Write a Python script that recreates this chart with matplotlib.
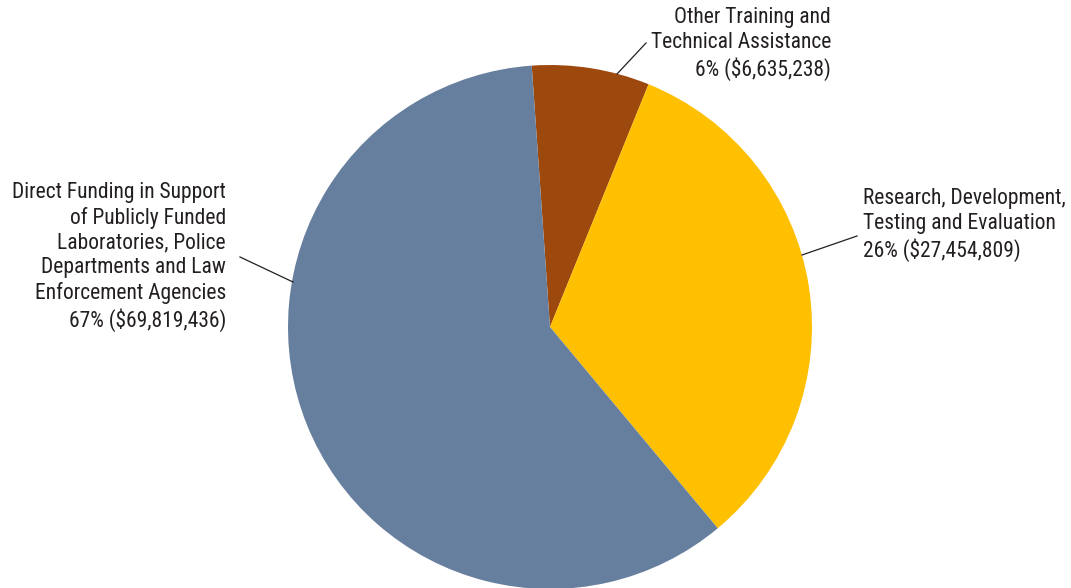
import matplotlib.pyplot as plt

# slice labels and values (as printed on the chart)
labels = [
    "Other Training and\nTechnical Assistance\n6% ($6,635,238)",
    "Research, Development,\nTesting and Evaluation\n26% ($27,454,809)",
    "Direct Funding in Support\nof Publicly Funded\nLaboratories, Police\nDepartments and Law\nEnforcement Agencies\n67% ($69,819,436)",
]
amounts = [6635238, 27454809, 69819436]
# share of the circle each wedge actually covers in the picture (percent)
drawn_share = [7.25, 32.8, 59.95]
colors = ["#9d490e", "#fec000", "#677f9e"]

W, H = 1071, 588
fig = plt.figure(figsize=(W / 100, H / 100), dpi=100)
ax = fig.add_axes([0, 0, 1, 1])


def py(y):
    # picture y (top down) -> axes y
    return H - y


ax.pie(drawn_share, colors=colors, startangle=94, counterclock=False,
       center=(550, py(327)), radius=262, frame=True,
       wedgeprops=dict(linewidth=0))
ax.set_xlim(0, W)
ax.set_ylim(0, H)
ax.set_aspect("equal")
ax.axis("off")

font = ["Roboto Condensed", "DejaVu Sans"]
tcol = "#231f20"
fs = 15.5
ls = 1.23

# label placement: text anchor, alignment, leader line (edge -> text)
ax.text(831, py(44), labels[0], ha="right", va="center", fontsize=fs,
        family=font, color=tcol, linespacing=ls)
ax.plot([617, 646], [py(74), py(43)], color=tcol, lw=0.9)

ax.text(863, py(225), labels[1], ha="left", va="center", fontsize=fs,
        family=font, color=tcol, linespacing=ls)
ax.plot([802, 857], [py(255), py(236)], color=tcol, lw=0.9)

ax.text(226, py(257), labels[2], ha="right", va="center", fontsize=fs,
        family=font, color=tcol, linespacing=ls)
ax.plot([240, 293], [py(257), py(282)], color=tcol, lw=0.9)

fig.savefig("out.png", dpi=100)
